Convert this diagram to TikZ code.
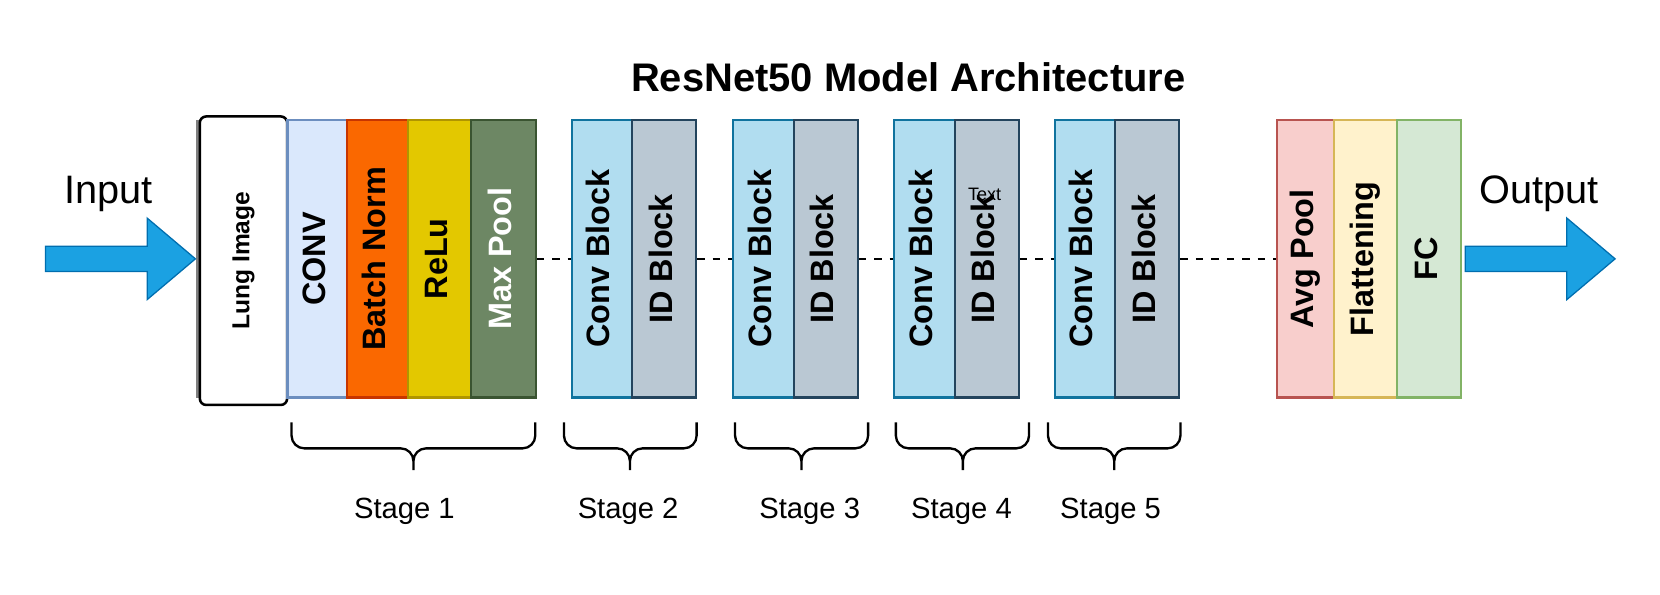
\documentclass[tikz,border=0pt]{standalone}
\usepackage{fontspec}
\setmainfont{Liberation Sans}
\usepackage{graphicx}
\definecolor{convfond}{HTML}{DAE8FC}
\definecolor{convtrait}{HTML}{6C8EBF}
\definecolor{bnfond}{HTML}{FA6800}
\definecolor{bntrait}{HTML}{C73500}
\definecolor{relufond}{HTML}{E3C800}
\definecolor{relutrait}{HTML}{B09500}
\definecolor{mpfond}{HTML}{6D8764}
\definecolor{mptrait}{HTML}{3A5431}
\definecolor{cbfond}{HTML}{B1DDF0}
\definecolor{cbtrait}{HTML}{10739E}
\definecolor{idfond}{HTML}{BAC8D3}
\definecolor{idtrait}{HTML}{23445D}
\definecolor{avgfond}{HTML}{F8CECC}
\definecolor{avgtrait}{HTML}{B85450}
\definecolor{flatfond}{HTML}{FFF2CC}
\definecolor{flattrait}{HTML}{D6B656}
\definecolor{fcfond}{HTML}{D5E8D4}
\definecolor{fctrait}{HTML}{82B366}
\definecolor{flechefond}{HTML}{1BA1E2}
\definecolor{flechetrait}{HTML}{006EAF}
\newcommand{\vtexte}[1]{\rotatebox{90}{\strut #1}}
\newcommand{\fleche}[1]{\draw[flechestyle] (#1) ++(0,-12) -- ++(96,0) -- ++(0,-26.5) -- ++(45.6,38.5) -- ++(-45.6,38.5) -- ++(0,-26.5) -- ++(-96,0) -- cycle}
\newcommand{\accolade}[3]{\draw[accol] (#1,399) |- (#3,423.5) -- (#3,444) (#2,399) |- (#3,423.5) -- (#3,444)}
\tikzset{
  couche/.style={line width=1pt, inner sep=0pt, minimum height=131pt, font=\fontsize{15.3}{18.4}\selectfont\bfseries},
  convbloc/.style={couche, fill=cbfond, draw=cbtrait, minimum width=28.6pt},
  idbloc/.style={couche, fill=idfond, draw=idtrait, minimum width=30.2pt},
  etage/.style={anchor=base, font=\fontsize{13.8}{16.6}\selectfont},
  flechestyle/.style={fill=flechefond, draw=flechetrait, line width=0.6pt},
  accol/.style={line width=1.1pt, rounded corners=6pt},
  pointille/.style={line width=1.1pt, dash pattern=on 3.5pt off 3.8pt}
}

\begin{document}
\begin{tikzpicture}[x=0.5pt, y=-0.5pt]
    \useasboundingbox (0,0) rectangle (1568,562);

    \node[anchor=base, font=\fontsize{18.85}{22.6}\selectfont\bfseries] (titre) at (858,86.5) {ResNet50 Model Architecture};
    \node[anchor=base, font=\fontsize{18.75}{22.5}\selectfont] (entreetexte) at (102.3,192) {Input};
    \node[anchor=base, font=\fontsize{18.75}{22.5}\selectfont] (sortietexte) at (1453.5,192) {Output};

    \draw[gray, line width=1.5pt] (186.5,113.5) -- (186.5,375.5);
    \node[draw=black, fill=white, line width=1.2pt, rounded corners=3pt, inner sep=0pt, minimum width=41.25pt, minimum height=136.25pt, font=\fontsize{11.6}{13.9}\selectfont\bfseries] (lung) at (230,246.25) {\vtexte{Lung Image}};

    \node[couche, fill=convfond, draw=convtrait, minimum width=28.2pt] (conv) at (299.8,244.5) {\vtexte{CONV}};
    \node[couche, fill=bnfond, draw=bntrait, minimum width=28.65pt] (bn) at (356.65,244.5) {\vtexte{Batch Norm}};
    \node[couche, fill=relufond, draw=relutrait, minimum width=29.7pt] (relu) at (415,244.5) {\vtexte{ReLu}};
    \node[couche, fill=mpfond, draw=mptrait, minimum width=30.65pt, text=white] (mp) at (475.35,244.5) {\vtexte{Max Pool}};

    \node[convbloc] (cb2) at (568.6,244.5) {\vtexte{Conv Block}};
    \node[idbloc] (id2) at (627.4,244.5) {\vtexte{ID Block}};
    \node[convbloc] (cb3) at (721.1,244.5) {\vtexte{Conv Block}};
    \node[idbloc] (id3) at (779.9,244.5) {\vtexte{ID Block}};
    \node[convbloc] (cb4) at (873.3,244.5) {\vtexte{Conv Block}};
    \node[idbloc] (id4) at (932.1,244.5) {\vtexte{ID Block}};
    \node[convbloc] (cb5) at (1025,244.5) {\vtexte{Conv Block}};
    \node[idbloc] (id5) at (1083.8,244.5) {\vtexte{ID Block}};

    \node[couche, fill=avgfond, draw=avgtrait, minimum width=27pt] (avg) at (1233,244.5) {\vtexte{Avg Pool}};
    \node[couche, fill=flatfond, draw=flattrait, minimum width=29.85pt] (flat) at (1289.85,244.5) {\vtexte{Flattening}};
    \node[couche, fill=fcfond, draw=fctrait, minimum width=30.35pt] (fc) at (1350.05,244.5) {\vtexte{FC}};

    \node[anchor=base, font=\fontsize{8.5}{10.2}\selectfont] (texte) at (930,189.5) {Text};

    \draw[pointille] (mp.east) -- (cb2.west);
    \draw[pointille] (id2.east) -- (cb3.west);
    \draw[pointille] (id3.east) -- (cb4.west);
    \draw[pointille] (id4.east) -- (cb5.west);
    \draw[pointille] (id5.east) -- (avg.west);

    \coordinate (entree) at (43,244.5);
    \coordinate (sortie) at (1384,244.5);
    \fleche{entree};
    \fleche{sortie};

    \accolade{275.4}{505.6}{390.5};
    \accolade{532.7}{658}{595};
    \accolade{694.3}{820}{757};
    \accolade{846.2}{972}{909.5};
    \accolade{989.9}{1115}{1052.5};

    \node[etage] (s1) at (382,490) {Stage 1};
    \node[etage] (s2) at (593.3,490) {Stage 2};
    \node[etage] (s3) at (764.8,490) {Stage 3};
    \node[etage] (s4) at (908.2,490) {Stage 4};
    \node[etage] (s5) at (1049,490) {Stage 5};
\end{tikzpicture}
\end{document}
